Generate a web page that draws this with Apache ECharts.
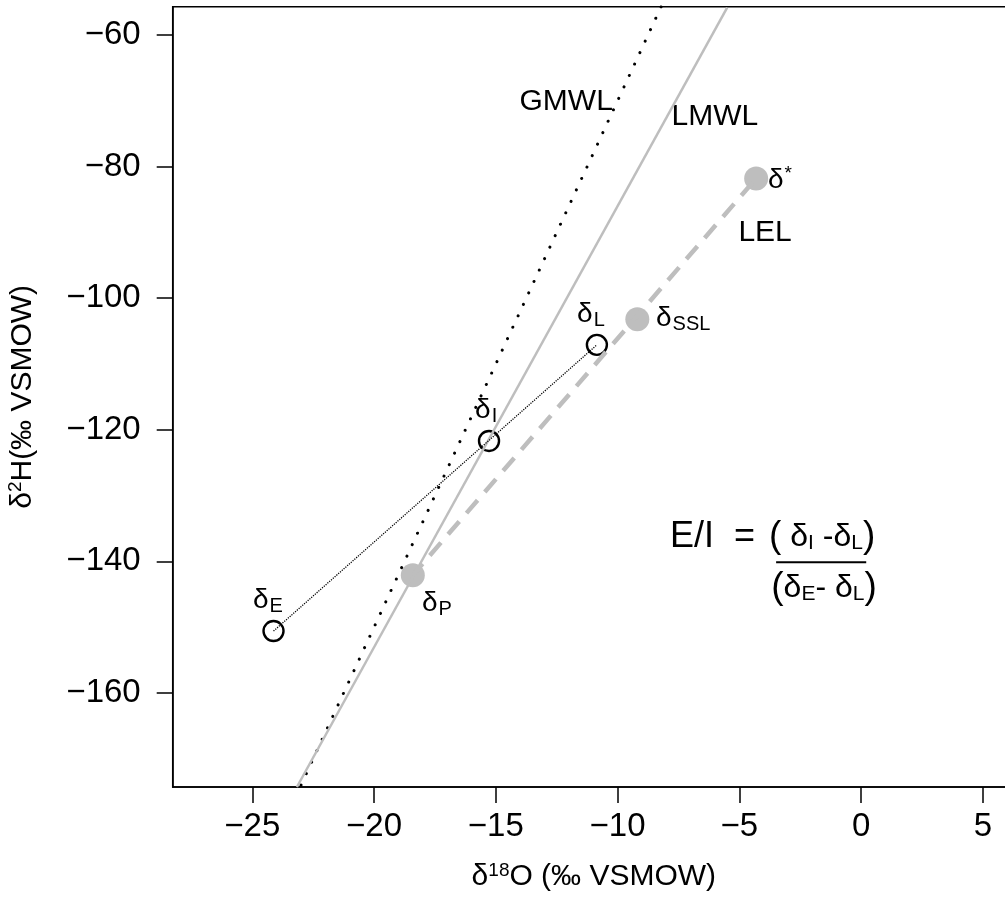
<!DOCTYPE html>
<html><head><meta charset="utf-8">
<script src="https://cdn.jsdelivr.net/npm/echarts@6/dist/echarts.min.js"></script>
<style>html,body{margin:0;padding:0;background:#fff}#c{width:1005px;height:903px}</style>
</head><body><div id="c"></div>
<script>
// ---- data ----
const xTicks = [-25, -20, -15, -10, -5, 0, 5];
const yTicks = [-160, -140, -120, -100, -80, -60];
// open circles: δE, δI, δL
const openNames = ['δE', 'δI', 'δL'];
const openX = [-24.13, -15.28, -10.85];
const openY = [-150.6, -121.7, -107.1];
// filled grey circles: δP, δSSL, δ*
const filledNames = ['δP', 'δSSL', 'δ*'];
const filledX = [-18.41, -9.19, -4.31];
const filledY = [-142.1, -103.2, -81.8];
// GMWL (δ2H = 8 δ18O + 10), LMWL end points
const gmwlX = [-23.0, -8.2];
const gmwlY = [-174.0, -55.6];
const lmwlX = [-23.17, -5.5];
const lmwlY = [-174.3, -55.85];
// annotation anchors (data coordinates) and texts
const annX = [-12.11, -6.0, -3.94, -3.82, -8.42, -11.66, -15.85, -24.97, -18.03, -6.10, -1.60, -1.52];
const annY = [-70.19, -72.47, -90.1, -82.05, -103.0, -102.4, -117.0, -145.9, -146.4, -136.3, -136.33, -144.08];
const annText = ['GMWL', 'LMWL', 'LEL', '{d|δ}{u|*}', '{d|δ}{s|SSL}', '{d|δ}{s|L}', '{d|δ}{s|I}', '{d|δ}{s|E}', '{d|δ}{s|P}',
  '{e|E/I  =}', '{p|(}{f| δ}{t|I}{f| -δ}{t|L}{p|)}', '{p|(}{f|δ}{t|E}{f|- δ}{t|L}{p|)}'];
const annAlign = ['center', 'center', 'center', 'left', 'left', 'left', 'left', 'left', 'left', 'center', 'center', 'center'];
const fracX = [-3.49, 0.21];
const fracY = [-140.13, -140.13];

// ---- chart ----
const FF = '"Liberation Sans", Arial, Helvetica, sans-serif';
const rich = {
  d: {fontSize: 28, fontFamily: FF, color: '#000', lineHeight: 28},
  s: {fontSize: 20, fontFamily: FF, color: '#000', lineHeight: 20, padding: [13, 0, 0, 1]},
  u: {fontSize: 19, fontFamily: FF, color: '#000', lineHeight: 19, padding: [0, 0, 13, 1]},
  e: {fontSize: 36, fontFamily: FF, color: '#000', lineHeight: 40},
  p: {fontSize: 37, fontFamily: FF, color: '#000', lineHeight: 40},
  f: {fontSize: 32, fontFamily: FF, color: '#000', lineHeight: 32},
  t: {fontSize: 21, fontFamily: FF, color: '#000', lineHeight: 21, padding: [13, 0, 0, 0]}
};
const nameRich = {
  d: {fontSize: 30, fontFamily: FF, color: '#000', lineHeight: 32},
  u: {fontSize: 19, fontFamily: FF, color: '#000', lineHeight: 19, padding: [0, 0, 13, 0]},
  t: {fontSize: 30, fontFamily: FF, color: '#000', lineHeight: 32}
};
const minus = v => (v < 0 ? '\u2212' + Math.abs(v) : String(v));
const zip = (a, b) => a.map((v, i) => [v, b[i]]);

const chart = echarts.init(document.getElementById('c'), null, {renderer: 'canvas'});
chart.setOption({
  animation: false,
  backgroundColor: '#fff',
  grid: {left: 172.7, top: 6.7, width: 842.3, height: 780.3, outerBoundsMode: 'none', containLabel: false,
    show: true, borderColor: '#000', borderWidth: 1.5, backgroundColor: 'transparent'},
  xAxis: {
    type: 'value', min: -28.27, max: 6.32,
    axisLine: {show: true, onZero: false, lineStyle: {color: '#000', width: 1.5}},
    axisTick: {show: true, inside: false, length: 16, customValues: xTicks, lineStyle: {color: '#000', width: 1.5}},
    axisLabel: {show: true, customValues: xTicks, margin: 23, fontSize: 33, fontFamily: FF, color: '#000', formatter: minus},
    splitLine: {show: false},
    name: '{d|δ}{u|18}{t|O (‰ VSMOW)}', nameLocation: 'middle', nameGap: 74,
    nameTextStyle: {rich: nameRich}
  },
  yAxis: {
    type: 'value', min: -174.3, max: -55.7,
    axisLine: {show: true, onZero: false, lineStyle: {color: '#000', width: 1.5}},
    axisTick: {show: true, inside: false, length: 16, customValues: yTicks, lineStyle: {color: '#000', width: 1.5}},
    axisLabel: {show: true, customValues: yTicks, margin: 32, fontSize: 33, fontFamily: FF, color: '#000', formatter: minus},
    splitLine: {show: false},
    name: '{d|δ}{u|2}{t|H(‰ VSMOW)}', nameLocation: 'middle', nameGap: 134,
    nameTextStyle: {rich: nameRich}
  },
  series: [
    {type: 'line', name: 'GMWL', data: zip(gmwlX, gmwlY), symbol: 'none', silent: true, clip: true,
      lineStyle: {color: '#000', width: 3, type: [0.01, 12.6], cap: 'round'}},
    {type: 'line', name: 'LMWL', data: zip(lmwlX, lmwlY), symbol: 'none', silent: true, clip: true,
      lineStyle: {color: '#bebebe', width: 2.5}},
    {type: 'line', name: 'LEL', data: [[filledX[0], filledY[0]], [filledX[2], filledY[2]]], symbol: 'none', silent: true,
      lineStyle: {color: '#bebebe', width: 4.5, type: [17, 11], dashOffset: 2}},
    {type: 'line', name: 'EL', data: [[openX[0], openY[0]], [openX[2], openY[2]]], symbol: 'none', silent: true,
      lineStyle: {color: '#000', width: 1.3, type: [1.2, 1.2]}},
    {type: 'scatter', name: 'filled', data: zip(filledX, filledY), symbol: 'circle', symbolSize: 24,
      itemStyle: {color: '#bebebe', opacity: 1}},
    {type: 'scatter', name: 'open', data: zip(openX, openY).map((p, i) => ({value: p,
        itemStyle: {color: i === 1 ? 'rgba(255,255,255,0)' : '#fff', borderColor: '#000', borderWidth: 2.4, opacity: 1}})),
      symbol: 'circle', symbolSize: 20},
    {type: 'line', name: 'frac', data: zip(fracX, fracY), symbol: 'none', silent: true,
      lineStyle: {color: '#000', width: 2}},
    {type: 'scatter', name: 'ann', silent: true, symbolSize: 0.1, itemStyle: {color: 'rgba(0,0,0,0)', opacity: 1},
      data: annX.map((x, i) => ({value: [x, annY[i]],
        label: {show: true, position: [0, 0], align: annAlign[i], verticalAlign: 'middle', formatter: annText[i],
          color: '#000', opacity: 1, fontSize: 30, fontFamily: FF, rich: rich}}))}
  ]
});
</script></body></html>
